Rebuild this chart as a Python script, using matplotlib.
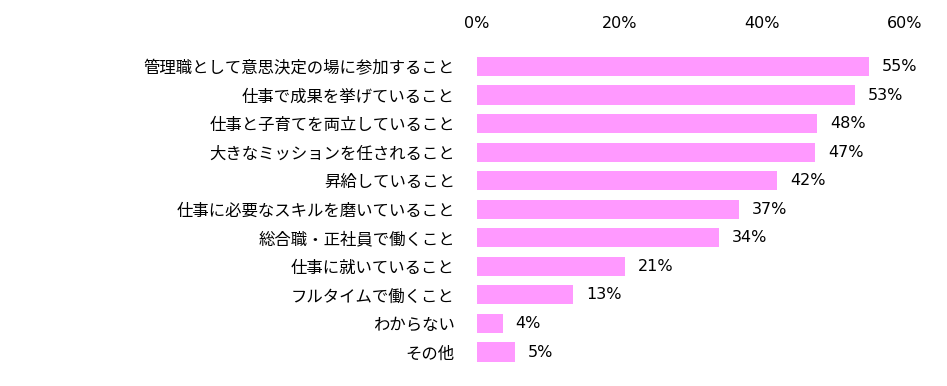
import numpy as np
import matplotlib.pyplot as plt

plt.rcParams['font.family'] = ['Noto Sans CJK JP', 'DejaVu Sans']

labels = ["管理職として意思決定の場に参加すること", "仕事で成果を挙げていること",
          "仕事と子育てを両立していること", "大きなミッションを任されること",
          "昇給していること", "仕事に必要なスキルを磨いていること",
          "総合職・正社員で働くこと", "仕事に就いていること",
          "フルタイムで働くこと", "わからない", "その他"]
values = [54.9, 53.0, 47.7, 47.4, 42.1, 36.7, 33.9, 20.8, 13.5, 3.6, 5.3]
shown = [55, 53, 48, 47, 42, 37, 34, 21, 13, 4, 5]

fig = plt.figure(figsize=(9.47, 3.86), dpi=100)
ax = fig.add_axes([0.5037, 0.051, 0.4519, 0.8137])

y = np.arange(len(labels))
ax.barh(y, values, height=0.67, color="#FF99FF")
for yi, v, s in zip(y, values, shown):
    ax.text(v + 1.8, yi, f"{s}%", va="center", ha="left", fontsize=11.5,
            family="DejaVu Sans", color="black")

ax.set_xlim(0, 60)
ax.set_ylim(len(labels) - 0.5, -0.5)
ax.set_yticks(y)
ax.set_yticklabels(labels, fontsize=11.8)
ax.set_xticks([0, 20, 40, 60])
ax.set_xticklabels(["0%", "20%", "40%", "60%"], fontsize=11.5, family="DejaVu Sans")
ax.xaxis.tick_top()
ax.tick_params(axis="x", length=0, pad=15)
ax.tick_params(axis="y", length=0, pad=16)
for sp in ax.spines.values():
    sp.set_visible(False)

fig.savefig("out.png", dpi=100)
